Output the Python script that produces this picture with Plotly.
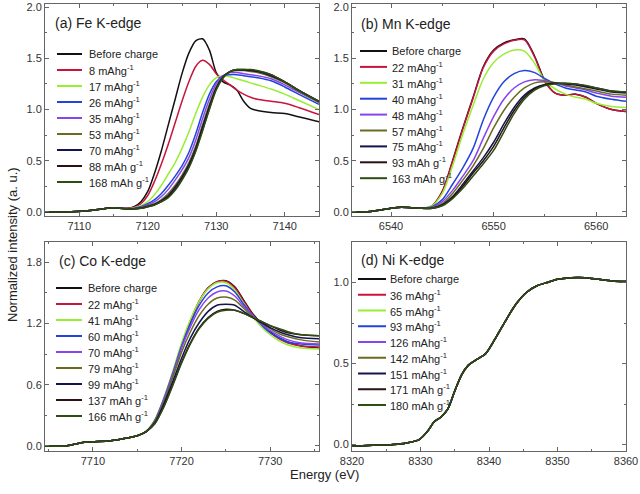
import plotly.graph_objects as go

# ---------------- data ----------------
colors = ["#111111", "#c8143c", "#99ee33", "#2244dd", "#8844ee",
          "#6b6b22", "#141450", "#2a1212", "#2d4d12"]

# (a) Fe K-edge
fe_labels = ["Before charge", "8 mAhg<sup>-1</sup>", "17 mAhg<sup>-1</sup>", "26 mAhg<sup>-1</sup>",
             "35 mAhg<sup>-1</sup>", "53 mAhg<sup>-1</sup>", "70 mAhg<sup>-1</sup>",
             "88 mAh g<sup>-1</sup>", "168 mAh g<sup>-1</sup>"]
fe_E = [7105, 7108, 7111, 7113, 7115, 7117, 7118, 7119, 7120, 7121, 7122, 7123, 7124, 7125,
        7126, 7127, 7128, 7129, 7130, 7131, 7132, 7133, 7134, 7135, 7136, 7138, 7140, 7142, 7145]
fe_before = [0.0, 0.0, 0.01, 0.025, 0.04, 0.035, 0.05, 0.10, 0.20, 0.38, 0.60, 0.85, 1.10, 1.35,
             1.55, 1.67, 1.69, 1.58, 1.36, 1.27, 1.24, 1.19, 1.08, 1.01, 0.99, 0.97, 0.96, 0.93, 0.88]
fe_8 = [0.0, 0.0, 0.01, 0.025, 0.04, 0.035, 0.045, 0.08, 0.16, 0.30, 0.47, 0.66, 0.87, 1.08,
        1.27, 1.42, 1.48, 1.44, 1.35, 1.29, 1.24, 1.19, 1.15, 1.12, 1.10, 1.08, 1.06, 1.02, 0.95]
fe_17 = [0.0, 0.0, 0.01, 0.025, 0.04, 0.03, 0.04, 0.06, 0.10, 0.17, 0.26, 0.37, 0.48, 0.62,
         0.78, 0.96, 1.12, 1.24, 1.31, 1.33, 1.32, 1.30, 1.28, 1.26, 1.24, 1.20, 1.15, 1.09, 1.00]
fe_26 = [0.0, 0.0, 0.01, 0.025, 0.04, 0.03, 0.035, 0.05, 0.08, 0.12, 0.18, 0.26, 0.35, 0.45,
         0.58, 0.76, 0.97, 1.15, 1.27, 1.33, 1.34, 1.34, 1.33, 1.32, 1.31, 1.28, 1.22, 1.15, 1.05]
fe_35 = [0.0, 0.0, 0.01, 0.025, 0.04, 0.03, 0.033, 0.045, 0.07, 0.10, 0.15, 0.22, 0.31, 0.41,
         0.53, 0.70, 0.91, 1.10, 1.25, 1.33, 1.36, 1.36, 1.35, 1.34, 1.33, 1.30, 1.24, 1.17, 1.07]
fe_53 = [0.0, 0.0, 0.01, 0.025, 0.04, 0.03, 0.032, 0.04, 0.06, 0.08, 0.12, 0.18, 0.26, 0.36,
         0.48, 0.64, 0.85, 1.05, 1.22, 1.32, 1.37, 1.38, 1.38, 1.37, 1.36, 1.32, 1.26, 1.18, 1.07]
fe_70 = [0.0, 0.0, 0.01, 0.025, 0.04, 0.03, 0.031, 0.038, 0.055, 0.075, 0.11, 0.16, 0.24, 0.34,
         0.46, 0.62, 0.83, 1.03, 1.21, 1.32, 1.37, 1.385, 1.385, 1.38, 1.37, 1.33, 1.27, 1.19, 1.08]
fe_88 = [0.0, 0.0, 0.01, 0.025, 0.04, 0.03, 0.03, 0.036, 0.05, 0.07, 0.10, 0.15, 0.22, 0.32,
         0.44, 0.60, 0.80, 1.01, 1.20, 1.31, 1.37, 1.39, 1.39, 1.385, 1.375, 1.34, 1.27, 1.19, 1.08]
fe_168 = [0.0, 0.0, 0.01, 0.025, 0.04, 0.03, 0.03, 0.035, 0.05, 0.068, 0.10, 0.14, 0.21, 0.31,
          0.43, 0.59, 0.79, 1.00, 1.19, 1.31, 1.37, 1.39, 1.39, 1.39, 1.38, 1.34, 1.27, 1.19, 1.08]

# (b) Mn K-edge
mn_labels = ["Before charge", "22 mAhg<sup>-1</sup>", "31 mAhg<sup>-1</sup>", "40 mAhg<sup>-1</sup>",
             "48 mAhg<sup>-1</sup>", "57 mAhg<sup>-1</sup>", "75 mAhg<sup>-1</sup>",
             "93 mAh g<sup>-1</sup>", "163 mAh g<sup>-1</sup>"]
mn_E = [6536.2, 6538, 6540, 6541, 6542, 6543, 6544, 6545, 6546, 6547, 6548, 6549, 6550,
        6551, 6552, 6553, 6554, 6555, 6556, 6557, 6558, 6559, 6560, 6561.5, 6562.9]
mn_before = [0.0, 0.005, 0.035, 0.045, 0.04, 0.035, 0.06, 0.20, 0.50, 0.82, 1.12, 1.42, 1.58,
             1.65, 1.68, 1.69, 1.52, 1.28, 1.16, 1.14, 1.15, 1.12, 1.06, 1.00, 0.98]
mn_22 = [0.0, 0.005, 0.035, 0.045, 0.04, 0.035, 0.06, 0.20, 0.49, 0.81, 1.11, 1.41, 1.57,
         1.64, 1.675, 1.68, 1.51, 1.27, 1.16, 1.14, 1.15, 1.12, 1.06, 1.00, 0.98]
mn_31 = [0.0, 0.005, 0.035, 0.045, 0.04, 0.035, 0.06, 0.18, 0.45, 0.76, 1.04, 1.30, 1.46,
         1.54, 1.58, 1.57, 1.45, 1.28, 1.20, 1.15, 1.12, 1.10, 1.06, 1.03, 1.02]
mn_40 = [0.0, 0.005, 0.035, 0.045, 0.04, 0.035, 0.05, 0.12, 0.27, 0.43, 0.62, 0.90, 1.12,
         1.27, 1.35, 1.38, 1.36, 1.30, 1.25, 1.21, 1.19, 1.17, 1.13, 1.10, 1.08]
mn_48 = [0.0, 0.005, 0.035, 0.045, 0.04, 0.035, 0.045, 0.10, 0.21, 0.35, 0.50, 0.72, 0.93,
         1.10, 1.21, 1.27, 1.29, 1.28, 1.26, 1.23, 1.21, 1.19, 1.16, 1.13, 1.12]
mn_57 = [0.0, 0.005, 0.035, 0.045, 0.04, 0.035, 0.04, 0.08, 0.18, 0.31, 0.45, 0.62, 0.82,
         0.99, 1.12, 1.21, 1.26, 1.27, 1.26, 1.24, 1.22, 1.20, 1.18, 1.15, 1.14]
mn_75 = [0.0, 0.005, 0.035, 0.045, 0.04, 0.035, 0.035, 0.07, 0.15, 0.27, 0.40, 0.53, 0.68,
         0.86, 1.02, 1.14, 1.21, 1.245, 1.255, 1.25, 1.24, 1.22, 1.20, 1.17, 1.16]
mn_93 = [0.0, 0.005, 0.035, 0.045, 0.04, 0.035, 0.035, 0.065, 0.14, 0.25, 0.38, 0.50, 0.64,
         0.82, 0.99, 1.12, 1.20, 1.24, 1.255, 1.255, 1.25, 1.23, 1.21, 1.18, 1.17]
mn_163 = [0.0, 0.005, 0.035, 0.045, 0.04, 0.035, 0.035, 0.06, 0.13, 0.23, 0.35, 0.47, 0.60,
          0.78, 0.96, 1.10, 1.19, 1.235, 1.25, 1.255, 1.25, 1.235, 1.21, 1.18, 1.17]

# (c) Co K-edge
co_labels = ["Before charge", "22 mAhg<sup>-1</sup>", "41 mAhg<sup>-1</sup>", "60 mAhg<sup>-1</sup>",
             "70 mAhg<sup>-1</sup>", "79 mAhg<sup>-1</sup>", "99 mAhg<sup>-1</sup>",
             "137 mAh g<sup>-1</sup>", "166 mAh g<sup>-1</sup>"]
co_E = [7704.6, 7707, 7709, 7710, 7712, 7714, 7715, 7716, 7717, 7718, 7719, 7720, 7721, 7722,
        7723, 7724, 7725, 7726, 7727, 7728, 7729, 7730, 7731, 7732, 7733.5, 7735.5]
co_before = [0.0, 0.0, 0.035, 0.04, 0.05, 0.08, 0.10, 0.14, 0.25, 0.45, 0.70, 0.98, 1.22, 1.42,
             1.55, 1.61, 1.62, 1.56, 1.43, 1.30, 1.20, 1.12, 1.06, 1.02, 0.98, 0.96]
co_22 = [0.0, 0.0, 0.035, 0.04, 0.05, 0.08, 0.10, 0.14, 0.25, 0.46, 0.71, 0.99, 1.23, 1.42,
         1.55, 1.61, 1.615, 1.55, 1.42, 1.29, 1.19, 1.11, 1.05, 1.01, 0.98, 0.97]
co_41 = [0.0, 0.0, 0.035, 0.04, 0.05, 0.08, 0.10, 0.14, 0.26, 0.47, 0.73, 1.01, 1.24, 1.42,
         1.54, 1.60, 1.60, 1.53, 1.40, 1.27, 1.17, 1.09, 1.03, 0.99, 0.96, 0.95]
co_60 = [0.0, 0.0, 0.035, 0.04, 0.05, 0.08, 0.10, 0.14, 0.25, 0.46, 0.71, 0.98, 1.20, 1.38,
         1.50, 1.56, 1.57, 1.51, 1.39, 1.28, 1.19, 1.11, 1.06, 1.02, 1.00, 0.99]
co_70 = [0.0, 0.0, 0.035, 0.04, 0.05, 0.08, 0.10, 0.14, 0.25, 0.45, 0.70, 0.96, 1.17, 1.34,
         1.45, 1.51, 1.52, 1.47, 1.37, 1.28, 1.20, 1.13, 1.08, 1.04, 1.01, 1.00]
co_79 = [0.0, 0.0, 0.035, 0.04, 0.05, 0.08, 0.10, 0.14, 0.24, 0.43, 0.67, 0.92, 1.12, 1.28,
         1.39, 1.45, 1.46, 1.43, 1.35, 1.27, 1.21, 1.15, 1.10, 1.07, 1.04, 1.02]
co_99 = [0.0, 0.0, 0.035, 0.04, 0.05, 0.08, 0.10, 0.14, 0.23, 0.41, 0.63, 0.86, 1.06, 1.21,
         1.32, 1.38, 1.39, 1.38, 1.32, 1.26, 1.21, 1.16, 1.12, 1.09, 1.06, 1.05]
co_137 = [0.0, 0.0, 0.035, 0.04, 0.05, 0.08, 0.10, 0.14, 0.22, 0.39, 0.60, 0.82, 1.01, 1.16,
          1.26, 1.32, 1.34, 1.33, 1.30, 1.26, 1.22, 1.18, 1.14, 1.11, 1.09, 1.08]
co_166 = [0.0, 0.0, 0.035, 0.04, 0.05, 0.08, 0.10, 0.14, 0.22, 0.38, 0.59, 0.81, 1.00, 1.15,
          1.25, 1.31, 1.33, 1.33, 1.30, 1.26, 1.22, 1.18, 1.15, 1.12, 1.09, 1.08]

# (d) Ni K-edge  (all spectra overlap)
ni_labels = ["Before charge", "36 mAhg<sup>-1</sup>", "65 mAhg<sup>-1</sup>", "93 mAhg<sup>-1</sup>",
             "126 mAhg<sup>-1</sup>", "142 mAhg<sup>-1</sup>", "151 mAhg<sup>-1</sup>",
             "171 mAh g<sup>-1</sup>", "180 mAh g<sup>-1</sup>"]
ni_E = [8320, 8323, 8326, 8328, 8329.8, 8331, 8332, 8333, 8334, 8335, 8336, 8337, 8338, 8339.5,
        8341, 8342.5, 8344, 8345.5, 8347, 8348.5, 8350, 8352, 8354, 8356, 8358, 8360]
ni_y = [-0.01, -0.005, 0.0, 0.01, 0.03, 0.08, 0.14, 0.17, 0.22, 0.33, 0.43, 0.49, 0.52, 0.56,
        0.66, 0.77, 0.87, 0.94, 0.98, 1.0, 1.02, 1.03, 1.03, 1.02, 1.01, 1.006]

panels = [
    dict(E=fe_E, ys=[fe_before, fe_8, fe_17, fe_26, fe_35, fe_53, fe_70, fe_88, fe_168],
         labels=fe_labels, title="(a) Fe K-edge"),
    dict(E=mn_E, ys=[mn_before, mn_22, mn_31, mn_40, mn_48, mn_57, mn_75, mn_93, mn_163],
         labels=mn_labels, title="(b) Mn K-edge"),
    dict(E=co_E, ys=[co_before, co_22, co_41, co_60, co_70, co_79, co_99, co_137, co_166],
         labels=co_labels, title="(c) Co K-edge"),
    dict(E=ni_E, ys=[ni_y] * 9, labels=ni_labels, title="(d) Ni K-edge"),
]

# ---------------- layout geometry (pixels) ----------------
W, H = 640, 494
px_x = [(45, 319), (352, 626), (45, 319), (352, 626)]
px_y = [(4, 216), (4, 216), (242, 451), (242, 451)]
xranges = [[7105, 7145], [6536.2, 6562.9], [7704.6, 7735.5], [8320, 8360]]
yranges = [[-0.04, 2.03], [-0.04, 2.03], [-0.05, 2.0], [-0.04, 1.25]]
xdt = [10, 10, 10, 10]
ydt = [0.5, 0.5, 0.6, 0.5]
xt0 = [7110, 6540, 7710, 8320]
title_pos = [(53, 23), (359, 24), (57, 261), (359, 260)]
# legend: line start, line end, text start, first row y, row step
leg_pos = [(57, 82, 87, 54, 16.0), (360, 387, 390, 51, 15.9),
           (56, 82, 86, 288, 16.0), (358, 386, 388, 279, 15.75)]

fig = go.Figure()
font_fam = "Liberation Sans, Arial, sans-serif"
tick_col = "#333333"
frame_col = "#666666"
txt_col = "#222222"


def fx(p):
    return p / W


def fy(p):
    return 1 - p / H


for i, p in enumerate(panels):
    n = i + 1
    xa = "x" if n == 1 else f"x{n}"
    ya = "y" if n == 1 else f"y{n}"
    for k, (yv, lab) in enumerate(zip(p["ys"], p["labels"])):
        fig.add_trace(go.Scatter(
            x=p["E"], y=yv, mode="lines", name=lab,
            line=dict(color=colors[k], width=1.5, shape="spline", smoothing=0.8),
            xaxis=xa, yaxis=ya, showlegend=False))

    x0, x1 = px_x[i]
    y0, y1 = px_y[i]
    axis_common = dict(showline=True, linecolor=frame_col, linewidth=1, mirror="ticks",
                       ticks="inside", ticklen=4, tickcolor=frame_col, showgrid=False,
                       zeroline=False, automargin=False,
                       tickfont=dict(size=11, color=tick_col, family=font_fam))
    fig.update_layout(**{
        ("xaxis" if n == 1 else f"xaxis{n}"): dict(
            domain=[fx(x0), fx(x1)], anchor=ya, range=xranges[i],
            tick0=xt0[i], dtick=xdt[i], ticklabelstandoff=0,
            minor=dict(ticks="inside", ticklen=2, tickcolor=frame_col, dtick=xdt[i] / 2),
            **axis_common),
        ("yaxis" if n == 1 else f"yaxis{n}"): dict(
            domain=[fy(y1), fy(y0)], anchor=xa, range=yranges[i],
            tick0=0, dtick=ydt[i], tickformat=".1f",
            minor=dict(ticks="inside", ticklen=2, tickcolor=frame_col, dtick=ydt[i] / 2),
            **axis_common),
    })
    tx, tyy = title_pos[i]
    fig.add_annotation(text=p["title"], xref="paper", yref="paper",
                       x=fx(tx), y=fy(tyy), xanchor="left", yanchor="middle", showarrow=False,
                       font=dict(size=14, color=txt_col, family=font_fam))
    lx0, lx1, ltx, ly, lstep = leg_pos[i]
    for k, lab in enumerate(p["labels"]):
        yy = ly + k * lstep
        fig.add_shape(type="line", xref="paper", yref="paper",
                      x0=fx(lx0), x1=fx(lx1), y0=fy(yy), y1=fy(yy),
                      line=dict(color=colors[k], width=2))
        fig.add_annotation(text=lab, xref="paper", yref="paper", x=fx(ltx), y=fy(yy),
                           xanchor="left", yanchor="middle", showarrow=False,
                           font=dict(size=11, color=txt_col, family=font_fam))

fig.add_annotation(text="Energy (eV)", xref="paper", yref="paper", x=fx(324), y=fy(474),
                   xanchor="center", yanchor="middle", showarrow=False,
                   font=dict(size=13, color=txt_col, family=font_fam))
fig.add_annotation(text="Normalized intensity (a. u.)", xref="paper", yref="paper",
                   x=fx(12), y=fy(245), xanchor="center", yanchor="middle",
                   textangle=-90, showarrow=False,
                   font=dict(size=13, color=txt_col, family=font_fam))

fig.update_layout(width=W, height=H, margin=dict(l=0, r=0, t=0, b=0, pad=0),
                  paper_bgcolor="white", plot_bgcolor="white", showlegend=False)
fig.write_html("out.html", config={"displayModeBar": False},
               post_script="document.body.style.margin='0';"
                           "document.body.style.padding='0';"
                           "document.documentElement.style.overflow='hidden';")
